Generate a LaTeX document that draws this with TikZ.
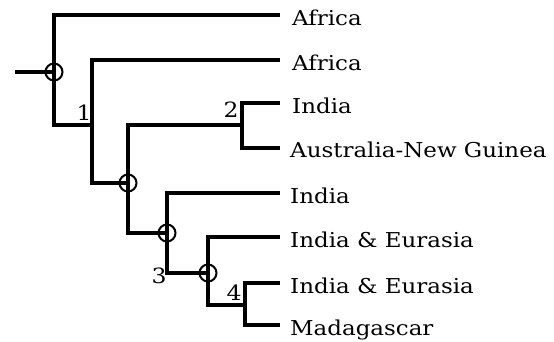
\documentclass[tikz,border=0pt]{standalone}
\usepackage{fontspec}
\setmainfont{DejaVu Serif}[FakeStretch=1.12]
\begin{document}
\begin{tikzpicture}[x=1pt,y=-1pt,
  branch/.style={line width=4.2pt,line join=miter,line cap=rect},
  junc/.style={circle,draw,line width=2pt,minimum size=17pt,inner sep=0pt},
  taxon/.style={anchor=base west,inner sep=0pt,font=\fontsize{20.5}{24}\selectfont},
  num/.style={inner sep=0pt,font=\fontsize{21}{24}\selectfont}]
\useasboundingbox (0,0) rectangle (554,341);
% internal points
\coordinate (r0) at (17,72);
\coordinate (j0) at (54,72);
\coordinate (n1) at (92,125);
\coordinate (j1) at (128,183);
\coordinate (n2) at (242,125);
\coordinate (j2) at (167,233);
\coordinate (j3) at (208,273);
\coordinate (n4) at (245,305);
% tips
\coordinate (t1) at (278,15);
\coordinate (t2) at (278,60);
\coordinate (t3) at (278,103);
\coordinate (t4) at (278,148);
\coordinate (t5) at (278,193);
\coordinate (t6) at (278,237);
\coordinate (t7) at (278,283);
\coordinate (t8) at (278,325);
% branches
\draw[branch] (r0) -- (j0);
\draw[branch] (t1) -| (j0) |- (n1);
\draw[branch] (t2) -| (n1) |- (j1);
\draw[branch] (n2) -| (j1) |- (j2);
\draw[branch] (t3) -| (n2) |- (t4);
\draw[branch] (t5) -| (j2) |- (j3);
\draw[branch] (t6) -| (j3) |- (n4);
\draw[branch] (t7) -| (n4) |- (t8);
% junction circles
\node[junc] (c0) at (j0) {};
\node[junc] (c1) at (j1) {};
\node[junc] (c2) at (j2) {};
\node[junc] (c3) at (j3) {};
% numbers
\node[num] (l1) at (84,113) {1};
\node[num] (l2) at (231,110) {2};
\node[num] (l3) at (159,276) {3};
\node[num] (l4) at (234,293) {4};
% taxa
\node[taxon] (a1) at (292,25) {Africa};
\node[taxon] (a2) at (292,70) {Africa};
\node[taxon] (a3) at (292,113) {India};
\node[taxon] (a4) at (290,157) {Australia-New Guinea};
\node[taxon] (a5) at (290,203) {India};
\node[taxon] (a6) at (290,247) {India \& Eurasia};
\node[taxon] (a7) at (290,293) {India \& Eurasia};
\node[taxon] (a8) at (290,335) {Madagascar};
\end{tikzpicture}
\end{document}
